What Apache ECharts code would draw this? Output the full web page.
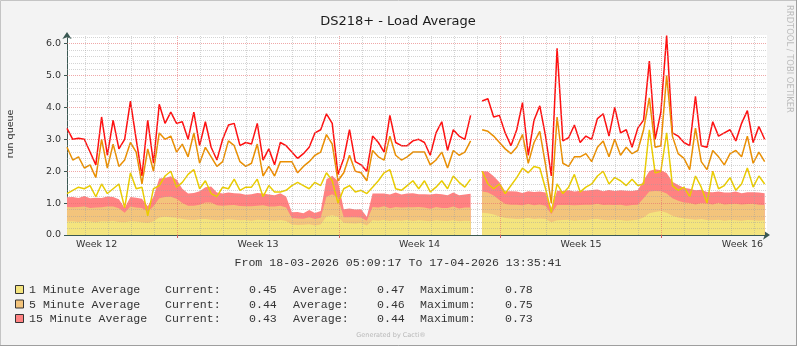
<!DOCTYPE html>
<html><head><meta charset="utf-8">
<script src="https://cdn.jsdelivr.net/npm/echarts@6/dist/echarts.min.js"></script>
<style>html,body{margin:0;padding:0;background:#f3f3f3}#c{width:797px;height:346px}</style>
</head><body><div id="c"></div><script>
// x axis unit: days since Monday 16-03-2026 00:00
const START = 2 + 18557 / 86400;   // 18-03-2026 05:09:17
const END = 32 + 48941 / 86400;    // 17-04-2026 13:35:41
const STEP = 0.25;                 // 6-hour samples
const WEEK_POS = [3.5, 10.5, 17.5, 24.5, 31.5];
const WEEK_LABELS = ['Week 12', 'Week 13', 'Week 14', 'Week 15', 'Week 16'];
const Y_TICKS = [0, 1, 2, 3, 4, 5, 6];

// stacked averages (layer thickness)
const avg1 = [0.42,0.43,0.41,0.44,0.42,0.40,0.43,0.42,0.44,0.41,0.40,0.43,0.42,0.40,0.38,0.43,
 0.55,0.57,0.56,0.54,
 0.50,
 0.48,0.47,0.49,0.50,0.48,0.46,0.47,0.49,0.48,0.46,0.47,0.45,0.48,0.47,0.46,0.45,0.47,0.44,
 0.33,0.31,0.32,0.34,0.30,0.33,
 0.58,0.62,0.57,
 0.38,0.37,0.36,0.38,0.30,
 0.46,0.45,0.47,0.44,0.46,0.45,0.47,0.44,0.46,0.45,0.43,0.46,0.45,0.44,0.46,0.43,0.45,0.44,
 null,
 0.70,0.68,0.64,0.58,
 0.53,0.52,0.50,0.51,0.53,0.50,0.52,0.50,0.40,
 0.46,0.47,0.48,0.45,0.47,0.46,0.49,0.50,0.47,0.46,0.48,0.47,0.45,0.46,0.48,0.55,
 0.68,0.72,0.75,0.70,
 0.60,0.55,0.52,0.50,0.48,0.50,
 0.47,0.46,0.48,0.45,0.47,0.46,0.45,0.47,0.46,0.45,0.46];
const avg5 = [0.46,0.44,0.47,0.45,0.43,0.46,0.44,0.47,0.45,0.43,0.30,0.46,0.44,0.45,0.35,0.47,
 0.60,0.62,0.64,0.60,
 0.50,
 0.44,0.45,0.46,0.52,0.54,0.47,0.45,0.44,0.46,0.45,0.43,0.45,0.44,0.46,0.43,0.44,0.45,0.42,
 0.20,0.21,0.19,0.22,0.20,0.21,
 0.62,0.66,0.60,
 0.18,0.19,0.20,0.17,0.15,
 0.42,0.41,0.43,0.40,0.42,0.41,0.40,0.43,0.42,0.41,0.39,0.42,0.40,0.41,0.43,0.40,0.41,0.42,
 null,
 0.66,0.65,0.60,0.52,
 0.44,0.43,0.45,0.42,0.44,0.43,0.44,0.42,0.25,
 0.48,0.47,0.46,0.48,0.47,0.49,0.46,0.48,0.47,0.49,0.46,0.48,0.47,0.48,0.47,0.60,
 0.68,0.66,0.62,0.60,
 0.55,0.52,0.50,0.50,0.48,0.50,
 0.52,0.50,0.53,0.51,0.50,0.52,0.51,0.50,0.52,0.50,0.48];
const avg15 = [0.30,0.32,0.28,0.33,0.30,0.31,0.29,0.32,0.30,0.28,0.15,0.30,0.31,0.29,0.17,0.30,
 0.62,0.60,0.64,0.60,
 0.45,
 0.38,0.40,0.42,0.48,0.50,0.40,0.38,0.40,0.37,0.39,0.36,0.38,0.40,0.37,0.38,0.36,0.39,0.35,
 0.18,0.20,0.17,0.22,0.19,0.21,
 0.55,0.58,0.52,
 0.25,0.27,0.24,0.26,0.12,
 0.42,0.44,0.40,0.43,0.45,0.41,0.43,0.44,0.40,0.42,0.45,0.41,0.43,0.40,0.44,0.42,0.41,0.43,
 null,
 0.64,0.66,0.60,0.55,
 0.40,0.42,0.41,0.39,0.40,0.42,0.40,0.41,0.20,
 0.45,0.44,0.46,0.43,0.45,0.44,0.46,0.45,0.43,0.46,0.44,0.45,0.47,0.44,0.46,0.55,
 0.65,0.68,0.66,0.64,
 0.52,0.50,0.46,0.45,0.44,0.42,
 0.36,0.38,0.35,0.37,0.36,0.38,0.35,0.37,0.36,0.38,0.37];

// peak lines
const max15 = [3.34,3.0,3.03,3.0,2.6,2.2,3.7,2.5,3.6,2.7,3.0,4.2,3.0,1.85,3.6,2.25,4.1,3.5,3.85,3.5,3.55,
 3.0,3.85,2.8,3.55,2.75,2.35,3.0,3.45,3.5,2.8,2.9,2.85,3.5,2.35,2.7,2.2,2.9,2.8,2.6,2.4,
 2.55,2.75,3.2,3.3,3.8,3.5,1.9,2.4,3.3,2.3,2.2,2.0,3.1,2.9,2.6,3.75,2.9,2.8,2.8,2.95,3.0,
 2.9,2.5,3.2,3.55,2.65,3.3,3.1,3.0,3.75,null,4.2,4.27,3.7,3.75,3.2,2.8,3.3,4.15,2.5,3.6,
 4.05,3.1,1.85,5.85,2.95,3.05,3.45,2.9,3.1,3.0,3.65,3.8,3.1,4.0,3.2,3.3,2.75,3.35,3.6,5.45,3.0,
 3.85,6.25,3.2,3.1,2.9,2.8,4.35,2.8,2.75,3.55,3.1,3.2,3.3,2.95,3.5,3.9,2.9,3.4,3.0];
const max5 = [2.75,2.35,2.45,2.1,2.2,1.8,3.0,2.1,2.85,2.15,2.35,2.9,2.6,1.6,2.7,2.0,3.2,3.0,3.1,2.6,2.85,
 2.45,3.2,2.25,2.75,2.45,2.15,2.3,2.95,2.8,2.3,2.15,2.25,2.85,1.85,2.15,1.85,2.3,2.3,2.3,1.95,
 2.15,2.3,2.5,2.6,3.15,2.85,1.7,1.95,2.5,2.0,1.95,1.7,2.65,2.45,2.35,3.1,2.5,2.35,2.45,2.6,2.6,
 2.6,2.2,2.35,2.6,2.1,2.65,2.5,2.6,2.95,null,3.3,3.25,3.1,2.9,2.7,2.55,2.75,3.15,2.25,2.9,
 3.25,2.2,1.0,3.7,2.25,2.15,2.45,2.45,2.55,2.3,2.75,2.95,2.45,3.0,2.5,2.75,2.55,2.65,3.3,4.3,2.75,
 2.8,5.0,3.1,2.55,2.4,2.05,3.35,2.3,2.05,2.65,2.45,2.2,2.55,2.65,2.45,3.1,2.25,2.6,2.3];
const max1 = [1.3,1.4,1.5,1.45,1.55,1.2,1.6,1.3,1.45,1.6,0.85,1.95,1.45,1.5,0.6,1.45,1.55,1.85,2.0,1.5,1.65,
 1.9,2.05,1.45,1.7,1.3,1.2,1.5,1.45,1.75,1.4,1.5,1.5,1.75,1.2,1.55,1.35,1.35,1.4,1.55,1.65,
 1.55,1.45,1.65,1.55,1.95,1.7,1.0,1.45,1.55,1.35,1.4,1.3,1.5,1.7,1.95,2.05,1.45,1.4,1.55,1.7,1.45,
 1.7,1.35,1.5,1.7,1.45,1.85,1.65,1.5,1.75,null,2.0,1.6,1.45,1.6,1.3,1.55,1.8,2.1,1.95,2.15,
 2.1,1.45,0.7,1.6,1.3,1.5,1.9,1.35,1.5,1.6,1.85,2.0,1.6,1.8,1.7,1.55,1.75,1.55,1.6,3.3,1.95,
 2.0,3.2,1.55,1.4,1.5,1.2,1.85,1.5,1.0,2.0,1.45,1.55,1.8,1.4,1.6,2.1,1.5,1.85,1.6];

const LEGEND_NAMES = ['1 Minute Average', '5 Minute Average', '15 Minute Average'];
const CURRENT = [0.45, 0.44, 0.43];
const AVERAGE = [0.47, 0.46, 0.44];
const MAXIMUM = [0.78, 0.75, 0.73];
const TITLE = 'DS218+ - Load Average';
const PERIOD = 'From 18-03-2026 05:09:17 To 17-04-2026 13:35:41';

const LINE_COLORS = ['#EACC00', '#EA8F00', '#FF1010'];
const FILLS = ['#F4E47E', '#F3C47C', '#FF8282'];
const MAJ = 'rgba(230,110,110,0.6)';
const MIN = 'rgba(160,160,160,0.45)';
const AXIS = '#3a5852';

const times = avg1.map((_, i) => START + i * STEP);
const pairs = arr => arr.map((v, i) => [times[i], v]);
// cumulative tops of the stacked average layers
const top1 = avg1;
const top5 = avg1.map((v, i) => v == null ? null : +(v + avg5[i]).toFixed(3));
const top15 = avg1.map((v, i) => v == null ? null : +(v + avg5[i] + avg15[i]).toFixed(3));

const gridLines = [];
for (let d = Math.ceil(START); d <= Math.floor(END); d++) {
  gridLines.push({ xAxis: d, lineStyle: { color: d % 7 === 0 ? MAJ : MIN } });
}
for (let k = 1; k * 0.2 <= 6.27; k++) {
  gridLines.push({ yAxis: +(k * 0.2).toFixed(1), lineStyle: { color: k % 5 === 0 ? MAJ : MIN } });
}

const chart = echarts.init(document.getElementById('c'), null, { renderer: 'canvas' });
const txt = (text, x, y, font, fill, align, extra) => Object.assign({
  type: 'text', x, y, silent: true,
  style: { text, font, fill, align, textAlign: align, verticalAlign: 'middle', textVerticalAlign: 'middle' }
}, extra || {});

const mono = '11.6px "Liberation Mono", monospace';
const legendEls = [];
LEGEND_NAMES.forEach((name, r) => {
  const cy = [290, 304.5, 319][r];
  legendEls.push({ type: 'rect', silent: true, shape: { x: 15.5, y: cy - 4.5, width: 8, height: 8 },
    style: { fill: FILLS[r], stroke: '#333', lineWidth: 1 } });
  legendEls.push(txt(name, 29, cy, mono, '#333', 'left'));
  legendEls.push(txt('Current:', 165, cy, mono, '#333', 'left'));
  legendEls.push(txt(CURRENT[r].toFixed(2), 249, cy, mono, '#333', 'left'));
  legendEls.push(txt('Average:', 293, cy, mono, '#333', 'left'));
  legendEls.push(txt(AVERAGE[r].toFixed(2), 377, cy, mono, '#333', 'left'));
  legendEls.push(txt('Maximum:', 420, cy, mono, '#333', 'left'));
  legendEls.push(txt(MAXIMUM[r].toFixed(2), 505, cy, mono, '#333', 'left'));
});

// areas drawn back to front: 15 min (tallest), 5 min, 1 min
const areaSeries = [[top15, 2], [top5, 1], [top1, 0]].map(([arr, k]) => ({
  type: 'line', name: LEGEND_NAMES[k], data: pairs(arr), showSymbol: false, silent: true,
  lineStyle: { width: 0, opacity: 0 }, areaStyle: { color: FILLS[k], opacity: 1, origin: 'start' }, z: 2
}));
const lineSeries = [[max15, 2], [max5, 1], [max1, 0]].map(([arr, k]) => ({
  type: 'line', data: pairs(arr), showSymbol: false, silent: true,
  lineStyle: { width: 1.5, color: LINE_COLORS[k] }, z: 4
}));

chart.setOption({
  animation: false,
  backgroundColor: '#f3f3f3',
  grid: { left: 67, right: 30, top: 35, bottom: 111, show: true, backgroundColor: '#ffffff', borderWidth: 0 },
  xAxis: {
    type: 'value', min: START, max: END,
    axisLine: { show: true, lineStyle: { color: AXIS, width: 1 }, symbol: ['none', 'arrow'], symbolSize: [7, 7], symbolOffset: [0, 3] },
    axisTick: { show: true, customValues: [7, 14, 21, 28], length: 3, lineStyle: { color: '#d06060' } },
    axisLabel: { customValues: WEEK_POS, formatter: v => WEEK_LABELS[WEEK_POS.indexOf(v)] || '',
      color: '#333', fontFamily: 'DejaVu Sans', fontSize: 9.5, margin: 5 },
    splitLine: { show: false }
  },
  yAxis: {
    type: 'value', min: 0, max: 6.27, interval: 1,
    axisLine: { show: true, lineStyle: { color: AXIS, width: 1 }, symbol: ['none', 'arrow'], symbolSize: [7, 7], symbolOffset: [0, 3] },
    axisTick: { show: true, customValues: Y_TICKS, length: 3, lineStyle: { color: AXIS } },
    axisLabel: { customValues: Y_TICKS, formatter: v => v.toFixed(1), color: '#333', fontFamily: 'DejaVu Sans', fontSize: 9.5, margin: 6 },
    splitLine: { show: false }
  },
  series: [
    ...areaSeries,
    { type: 'line', data: [[START, null]], showSymbol: false, silent: true, z: 3, lineStyle: { opacity: 0 },
      markLine: { silent: true, symbol: ['none', 'none'], label: { show: false }, animation: false,
        lineStyle: { type: [1, 1], width: 1 }, emphasis: { disabled: true }, data: gridLines } },
    ...lineSeries
  ],
  graphic: [
    { type: 'rect', silent: true, shape: { x: 0.5, y: 0.5, width: 796, height: 345 }, style: { fill: 'none', stroke: '#c4c4c4', lineWidth: 1 } },
    { type: 'line', silent: true, shape: { x1: 0, y1: 345.5, x2: 797, y2: 345.5 }, style: { stroke: '#9e9e9e', lineWidth: 1 } },
    { type: 'line', silent: true, shape: { x1: 796.5, y1: 0, x2: 796.5, y2: 346 }, style: { stroke: '#9e9e9e', lineWidth: 1 } },
    txt(TITLE, 398, 22, '13px "DejaVu Sans"', '#1a1a1a', 'center'),
    txt('run queue', 11, 134, '9.5px "DejaVu Sans"', '#333', 'center', { rotation: Math.PI / 2 }),
    txt('RRDTOOL / TOBI OETIKER', 789, 5, '8.4px "DejaVu Sans"', '#bcbcbc', 'left', { rotation: -Math.PI / 2 }),
    txt(PERIOD, 398, 263, mono, '#333', 'center'),
    ...legendEls,
    txt('Generated by Cacti®', 391, 335, '6.5px "DejaVu Sans"', '#b8b8b8', 'center')
  ]
});
</script></body></html>
